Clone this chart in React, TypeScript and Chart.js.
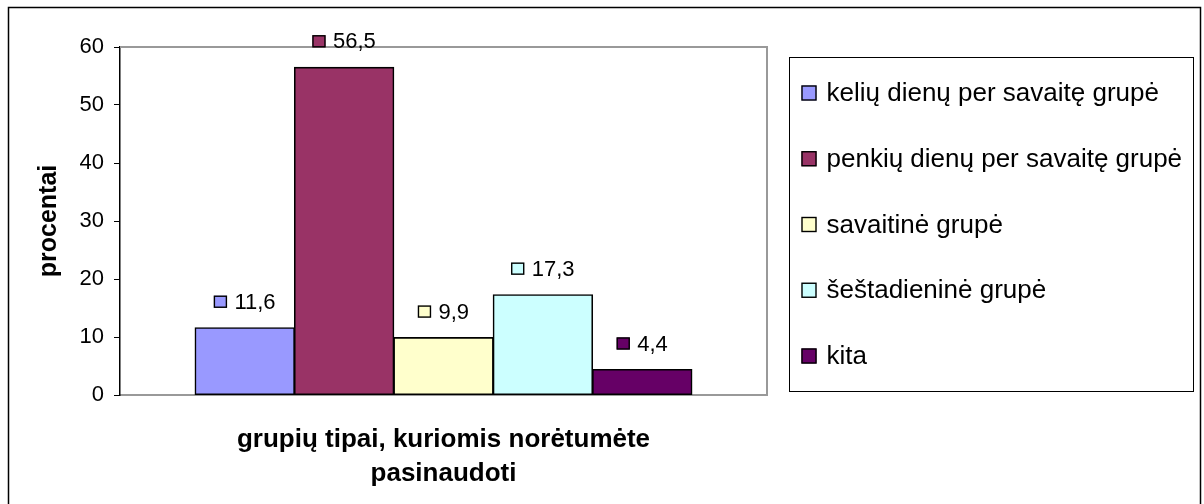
import React, { useEffect, useRef } from "react";
import { Chart, registerables } from "chart.js";

Chart.register(...registerables);

const categories = [""];
const seriesNames = [
  "kelių dienų per savaitę grupė",
  "penkių dienų per savaitę grupė",
  "savaitinė grupė",
  "šeštadieninė grupė",
  "kita",
];
const seriesValues = [11.6, 56.5, 9.9, 17.3, 4.4];
const seriesColors = ["#9999FF", "#993366", "#FFFFCC", "#CCFFFF", "#660066"];
const yTitle = "procentai";
const xTitle = ["grupių tipai, kuriomis norėtumėte", "pasinaudoti"];
const yMin = 0;
const yMax = 60;
const yStep = 10;

const FONT = "'Liberation Sans', Arial, sans-serif";

const W = 1204;
const H = 504;

const frameAndLabels = {
  id: "frameAndLabels",
  beforeDatasetsDraw(chart: any) {
    const { ctx, chartArea } = chart;
    ctx.save();
    ctx.strokeStyle = "#999999";
    ctx.lineWidth = 2;
    ctx.beginPath();
    ctx.moveTo(chartArea.left, chartArea.top);
    ctx.lineTo(chartArea.right, chartArea.top);
    ctx.lineTo(chartArea.right, chartArea.bottom);
    ctx.stroke();
    ctx.restore();
  },
  afterDatasetsDraw(chart: any) {
    const { ctx } = chart;
    ctx.save();
    ctx.font = `22px ${FONT}`;
    ctx.textBaseline = "middle";
    ctx.textAlign = "left";
    chart.data.datasets.forEach((ds: any, i: number) => {
      const meta = chart.getDatasetMeta(i);
      const el = meta.data[0];
      if (!el) return;
      const text = String(ds.data[0]).replace(".", ",");
      const tw = ctx.measureText(text).width;
      const sq = 13;
      const gap = 7.5;
      const total = sq + gap + tw;
      const left = el.x - total / 2;
      const cy = el.y - 26;
      ctx.fillStyle = ds.backgroundColor;
      ctx.fillRect(left, cy - 6, sq, 12);
      ctx.strokeStyle = "#000";
      ctx.lineWidth = 1.4;
      ctx.strokeRect(left + 0.5, cy - 5.5, sq - 1, 11);
      ctx.fillStyle = "#000";
      ctx.fillText(text, left + sq + gap, cy + 1);
    });
    ctx.restore();
  },
  afterDraw(chart: any) {
    const { ctx } = chart;
    ctx.save();
    // outer border
    ctx.strokeStyle = "#000";
    ctx.lineWidth = 1.5;
    ctx.strokeRect(8.5, 7.5, 1192, 520);
    // legend box
    ctx.lineWidth = 1;
    ctx.strokeRect(789.5, 57.5, 404, 334);
    ctx.font = `26px ${FONT}`;
    ctx.textBaseline = "middle";
    ctx.textAlign = "left";
    chart.data.datasets.forEach((ds: any, i: number) => {
      const cy = 93 + i * 65.75;
      ctx.fillStyle = ds.backgroundColor;
      ctx.fillRect(801.5, cy - 7.5, 15, 15);
      ctx.strokeStyle = "#000";
      ctx.lineWidth = 1.4;
      ctx.strokeRect(802, cy - 7, 14, 14);
      ctx.fillStyle = "#000";
      ctx.fillText(ds.label, 826.5, cy + 1);
    });
    ctx.restore();
  },
};

export default function App() {
  const ref = useRef<HTMLCanvasElement | null>(null);

  useEffect(() => {
    if (!ref.current) return;
    Chart.defaults.font.family = FONT;
    const chart = new Chart(ref.current, {
      type: "bar",
      data: {
        labels: categories,
        datasets: seriesNames.map((name, i) => ({
          label: name,
          data: [seriesValues[i]],
          backgroundColor: seriesColors[i],
          borderColor: "#000000",
          borderWidth: 1.6,
          borderSkipped: false,
          inflateAmount: 0.5,
          categoryPercentage: 0.768,
          barPercentage: 1,
        })),
      },
      options: {
        animation: false,
        responsive: false,
        devicePixelRatio: 1,
        layout: { padding: { left: 0, top: 47, right: W - 767, bottom: 0 } },
        plugins: {
          legend: { display: false },
          tooltip: { enabled: false },
        },
        scales: {
          x: {
            type: "category",
            grid: { display: false },
            border: { display: true, color: "#999999", width: 2 },
            ticks: { display: false },
            title: {
              display: true,
              text: xTitle,
              color: "#000",
              font: { size: 26, weight: "bold", family: FONT, lineHeight: 1.3 },
              padding: { top: 0, bottom: 13.5 },
            },
            afterFit(scale: any) {
              scale.height = 109;
            },
          },
          y: {
            min: yMin,
            max: yMax,
            ticks: {
              stepSize: yStep,
              color: "#000",
              font: { size: 22, family: FONT },
              padding: 10,
            },
            grid: {
              drawOnChartArea: false,
              drawTicks: true,
              tickLength: 6,
              color: "#000",
              tickColor: "#000",
            },
            border: { display: true, color: "#000", width: 1.5 },
            title: {
              display: true,
              text: yTitle,
              color: "#000",
              font: { size: 25, weight: "bold", family: FONT, lineHeight: 1.2 },
              padding: { top: 34, bottom: 0 },
            },
            afterFit(scale: any) {
              scale.width = 120;
            },
          },
        },
      },
      plugins: [frameAndLabels],
    });
    return () => chart.destroy();
  }, []);

  return (
    <div style={{ position: "absolute", left: 0, top: 0, width: W, height: H, background: "#fff" }}>
      <canvas ref={ref} width={W} height={H} style={{ display: "block" }} />
    </div>
  );
}
